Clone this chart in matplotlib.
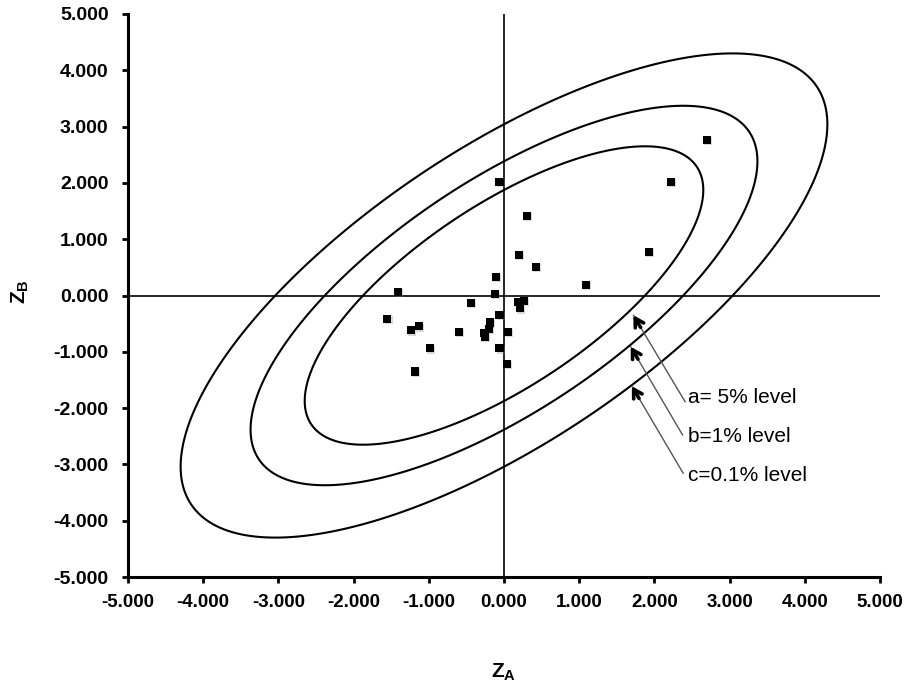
import numpy as np
import matplotlib
matplotlib.use('Agg')
import matplotlib.pyplot as plt
import matplotlib.patheffects as pe
from matplotlib.patches import Polygon

# ---- data ----
z_a = [-0.06, 0.31, 0.195, 0.425, -0.106, 1.086, -1.405, -0.12, -0.44, 0.18,
       0.27, 0.21, -1.55, -0.06, -1.13, -1.24, -0.60, -0.19, -0.20, -0.27,
       -0.25, 0.05, -0.99, -0.06, -1.18, 0.04, 2.70, 2.22, 1.93]
z_b = [2.02, 1.41, 0.725, 0.51, 0.33, 0.19, 0.056, 0.027, -0.13, -0.11,
       -0.09, -0.23, -0.42, -0.35, -0.55, -0.62, -0.64, -0.48, -0.60, -0.67,
       -0.74, -0.64, -0.94, -0.94, -1.35, -1.21, 2.76, 2.02, 0.77]

level_labels = ['a= 5% level', 'b=1% level', 'c=0.1% level']
ellipse_radius = [2.65, 3.37, 4.30]   # half-extent of each contour
rho = 0.707
ticks = [-5, -4, -3, -2, -1, 0, 1, 2, 3, 4, 5]

arrow_tips = [(1.72, -0.35), (1.685, -0.91), (1.70, -1.61)]
arrow_tails = [(2.41, -1.89), (2.376, -2.48), (2.384, -3.16)]
text_pos = [(2.45, -1.82), (2.45, -2.50), (2.45, -3.19)]

# ---- style ----
plt.rcParams['font.family'] = ['Liberation Sans', 'DejaVu Sans']
plt.rcParams['mathtext.fontset'] = 'custom'
plt.rcParams['mathtext.bf'] = 'Liberation Sans:bold'
plt.rcParams['mathtext.rm'] = 'Liberation Sans'

fig = plt.figure(figsize=(9.07, 6.87), dpi=100)
ax = fig.add_axes([128/907, 1-577/687, (880-128)/907, (577-14)/687])

t = np.linspace(0, 2*np.pi, 500, endpoint=False)
for r in ellipse_radius:
    x = r*np.cos(t)
    y = r*(rho*np.cos(t) + np.sqrt(1-rho**2)*np.sin(t))
    ax.add_patch(Polygon(np.column_stack([x, y]), closed=True, fill=False,
                         edgecolor='black', lw=1.5, joinstyle='round', zorder=2))

ax.axhline(0, color='black', lw=1.2, zorder=1)
ax.axvline(0, color='black', lw=1.2, zorder=1)

ax.plot(z_a, z_b, 's', color='black', ms=5.8, markeredgewidth=0, zorder=3,
        path_effects=[pe.SimplePatchShadow(offset=(0.8, -0.8), shadow_rgbFace='gray', alpha=0.3),
                      pe.Normal()])

for tip, tail, lab, tp in zip(arrow_tips, arrow_tails, level_labels, text_pos):
    ax.annotate('', xy=tip, xytext=tail,
                arrowprops=dict(arrowstyle='-', color='#555555', lw=1.0,
                                shrinkA=0, shrinkB=0))
    near = (tip[0] + 0.14*(tail[0]-tip[0]), tip[1] + 0.14*(tail[1]-tip[1]))
    ax.annotate('', xy=tip, xytext=near,
                arrowprops=dict(arrowstyle='->,head_length=0.6,head_width=0.35',
                                color='black', lw=2.6, shrinkA=0, shrinkB=0))
    ax.text(tp[0], tp[1], lab, fontsize=15, ha='left', va='center', color='black')

ax.set_xlim(-5, 5)
ax.set_ylim(-5, 5)
ax.set_xticks(ticks)
ax.set_yticks(ticks)
ax.set_xticklabels([f'{v:.3f}' for v in ticks], fontweight='bold')
ax.set_yticklabels([f'{v:.3f}' for v in ticks], fontweight='bold')
ax.tick_params(axis='both', direction='out', length=4, width=2, colors='black')
ax.tick_params(axis='y', pad=10, labelsize=14)
ax.tick_params(axis='x', pad=8, labelsize=13.5)
for s in ['top', 'right']:
    ax.spines[s].set_visible(False)
for s in ['left', 'bottom']:
    ax.spines[s].set_linewidth(2.2)

fig.text(504/907, 1-672/687, r'$\mathbf{Z_A}$', fontsize=15, ha='center', va='center')
fig.text(20/907, 1-292/687, r'$\mathbf{Z_B}$', fontsize=15, ha='center', va='center', rotation=90)

fig.savefig('out.png', dpi=100)
